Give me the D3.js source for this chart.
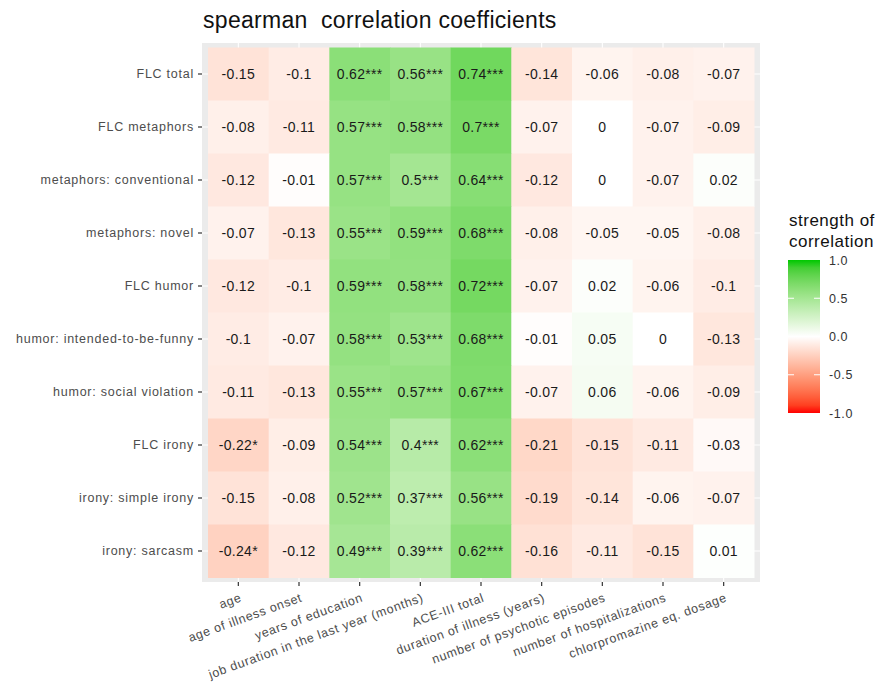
<!DOCTYPE html>
<html>
<head>
<meta charset="utf-8">
<script src="https://cdn.jsdelivr.net/npm/d3@7"></script>
<style>
  body { margin: 0; background: #fff; }
  svg { font-family: "Liberation Sans", Arial, sans-serif; }
</style>
</head>
<body>
<div id="root"></div>
<script>
const rowLabels = [
  'FLC total', 'FLC metaphors', 'metaphors: conventional', 'metaphors: novel',
  'FLC humor', 'humor: intended-to-be-funny', 'humor: social violation',
  'FLC irony', 'irony: simple irony', 'irony: sarcasm'
];

const colLabels = [
  'age', 'age of illness onset', 'years of education',
  'job duration in the last year (months)', 'ACE-III total',
  'duration of illness (years)', 'number of psychotic episodes',
  'number of hospitalizations', 'chlorpromazine eq. dosage'
];

// one row per FLC measure, same order as colLabels
const values = [
  [-0.15, -0.1, 0.62, 0.56, 0.74, -0.14, -0.06, -0.08, -0.07],
  [-0.08, -0.11, 0.57, 0.58, 0.7, -0.07, 0, -0.07, -0.09],
  [-0.12, -0.01, 0.57, 0.5, 0.64, -0.12, 0, -0.07, 0.02],
  [-0.07, -0.13, 0.55, 0.59, 0.68, -0.08, -0.05, -0.05, -0.08],
  [-0.12, -0.1, 0.59, 0.58, 0.72, -0.07, 0.02, -0.06, -0.1],
  [-0.1, -0.07, 0.58, 0.53, 0.68, -0.01, 0.05, 0, -0.13],
  [-0.11, -0.13, 0.55, 0.57, 0.67, -0.07, 0.06, -0.06, -0.09],
  [-0.22, -0.09, 0.54, 0.4, 0.62, -0.21, -0.15, -0.11, -0.03],
  [-0.15, -0.08, 0.52, 0.37, 0.56, -0.19, -0.14, -0.06, -0.07],
  [-0.24, -0.12, 0.49, 0.39, 0.62, -0.16, -0.11, -0.15, 0.01]
];

const stars = [
  ['', '', '***', '***', '***', '', '', '', ''],
  ['', '', '***', '***', '***', '', '', '', ''],
  ['', '', '***', '***', '***', '', '', '', ''],
  ['', '', '***', '***', '***', '', '', '', ''],
  ['', '', '***', '***', '***', '', '', '', ''],
  ['', '', '***', '***', '***', '', '', '', ''],
  ['', '', '***', '***', '***', '', '', '', ''],
  ['*', '', '***', '***', '***', '', '', '', ''],
  ['', '', '***', '***', '***', '', '', '', ''],
  ['*', '', '***', '***', '***', '', '', '', '']
];

const legendTicks = [1, 0.5, 0, -0.5, -1];

const width = 882;
const height = 684;
const panel = { left: 202, right: 760, top: 43, bottom: 582 };
const inset = { x: 6, y: 4.5 };

const svg = d3.select('#root').append('svg')
  .attr('width', width)
  .attr('height', height);

svg.append('text')
  .attr('x', 203)
  .attr('y', 28)
  .attr('font-size', 23)
  .attr('letter-spacing', 0.3)
  .attr('fill', '#111')
  .style('white-space', 'pre')
  .text('spearman  correlation coefficients');

const cells = [];
values.forEach((row, i) => row.forEach((v, j) => {
  cells.push({ row: rowLabels[i], col: colLabels[j], value: v, label: `${v}${stars[i][j]}` });
}));

const xScale = d3.scaleBand()
  .domain(colLabels)
  .range([panel.left + inset.x, panel.right - inset.x]);

const yScale = d3.scaleBand()
  .domain(rowLabels)
  .range([panel.top + inset.y, panel.bottom - inset.y]);

const colorScale = d3.scaleLinear()
  .domain([-1, 0, 1])
  .range(['#ff0000', '#ffffff', '#00c800'])
  .interpolate(d3.interpolateLab);

svg.append('rect')
  .attr('x', panel.left)
  .attr('y', panel.top)
  .attr('width', panel.right - panel.left)
  .attr('height', panel.bottom - panel.top)
  .attr('fill', '#ebebeb');

const grid = svg.append('g')
  .attr('stroke', '#fff')
  .attr('stroke-width', 1.1);

grid.selectAll('line.v')
  .data(colLabels)
  .enter()
  .append('line')
  .attr('x1', d => xScale(d) + xScale.bandwidth() / 2)
  .attr('x2', d => xScale(d) + xScale.bandwidth() / 2)
  .attr('y1', panel.top)
  .attr('y2', panel.bottom);

grid.selectAll('line.h')
  .data(rowLabels)
  .enter()
  .append('line')
  .attr('y1', d => yScale(d) + yScale.bandwidth() / 2)
  .attr('y2', d => yScale(d) + yScale.bandwidth() / 2)
  .attr('x1', panel.left)
  .attr('x2', panel.right);

svg.append('g')
  .selectAll('rect')
  .data(cells)
  .enter()
  .append('rect')
  .attr('x', d => xScale(d.col))
  .attr('y', d => yScale(d.row))
  .attr('width', xScale.bandwidth() + 0.5)
  .attr('height', yScale.bandwidth() + 0.5)
  .attr('fill', d => colorScale(d.value));

svg.append('g')
  .selectAll('text')
  .data(cells)
  .enter()
  .append('text')
  .attr('x', d => xScale(d.col) + xScale.bandwidth() / 2)
  .attr('y', d => yScale(d.row) + yScale.bandwidth() / 2)
  .attr('dy', '0.36em')
  .attr('text-anchor', 'middle')
  .attr('font-size', 14)
  .attr('letter-spacing', 0.3)
  .attr('fill', '#1a1a1a')
  .text(d => d.label);

const yAxis = d3.axisLeft(yScale)
  .tickSize(4)
  .tickPadding(4);

svg.append('g')
  .attr('transform', `translate(${panel.left}, 0)`)
  .call(yAxis)
  .call(g => g.select('.domain').remove())
  .call(g => g.selectAll('line').attr('stroke', '#333').attr('stroke-width', 1.2))
  .call(g => g.selectAll('text')
    .attr('fill', '#4d4d4d')
    .attr('font-size', 12.5)
    .attr('letter-spacing', 0.75)
    .attr('font-family', '"Liberation Sans", Arial, sans-serif'));

const xAxis = d3.axisBottom(xScale)
  .tickSize(4)
  .tickPadding(4);

svg.append('g')
  .attr('transform', `translate(0, ${panel.bottom})`)
  .call(xAxis)
  .call(g => g.select('.domain').remove())
  .call(g => g.selectAll('line').attr('stroke', '#333').attr('stroke-width', 1.2))
  .call(g => g.selectAll('text')
    .attr('fill', '#4d4d4d')
    .attr('font-size', 12.5)
    .attr('letter-spacing', 0.65)
    .attr('font-family', '"Liberation Sans", Arial, sans-serif')
    .attr('text-anchor', 'end')
    .attr('y', 0)
    .attr('dy', 0)
    .attr('transform', 'translate(4, 19) rotate(-20)'));

// legend
const legend = svg.append('g');
const barX = 788;
const barW = 32;

legend.selectAll('text.title')
  .data(['strength of', 'correlation'])
  .enter()
  .append('text')
  .attr('x', 789)
  .attr('y', (d, i) => 226 + i * 21)
  .attr('font-size', 17)
  .attr('letter-spacing', 0.5)
  .attr('fill', '#111')
  .text(d => d);

const legendScale = d3.scaleLinear()
  .domain([1, -1])
  .range([260, 413]);

const grad = svg.append('defs').append('linearGradient')
  .attr('id', 'bar-grad')
  .attr('x1', 0).attr('y1', 0).attr('x2', 0).attr('y2', 1);

grad.selectAll('stop')
  .data(d3.range(0, 21))
  .enter()
  .append('stop')
  .attr('offset', d => d / 20)
  .attr('stop-color', d => colorScale(1 - d / 10));

legend.append('rect')
  .attr('x', barX)
  .attr('y', legendScale(1))
  .attr('width', barW)
  .attr('height', legendScale(-1) - legendScale(1))
  .attr('fill', 'url(#bar-grad)');

legend.selectAll('line.tick')
  .data(legendTicks.filter(d => Math.abs(d) < 1))
  .enter()
  .append('g')
  .each(function (d) {
    const g = d3.select(this);
    const y = legendScale(d);
    g.append('line').attr('x1', barX).attr('x2', barX + 6).attr('y1', y).attr('y2', y)
      .attr('stroke', '#fff').attr('stroke-width', 1);
    g.append('line').attr('x1', barX + barW - 6).attr('x2', barX + barW).attr('y1', y).attr('y2', y)
      .attr('stroke', '#fff').attr('stroke-width', 1);
  });

legend.selectAll('text.lab')
  .data(legendTicks)
  .enter()
  .append('text')
  .attr('x', 829)
  .attr('y', d => legendScale(d))
  .attr('dy', '0.36em')
  .attr('font-size', 12.5)
  .attr('letter-spacing', 0.6)
  .attr('fill', '#333')
  .text(d => d3.format('.1f')(d).replace('\u2212', '-'));
</script>
</body>
</html>
